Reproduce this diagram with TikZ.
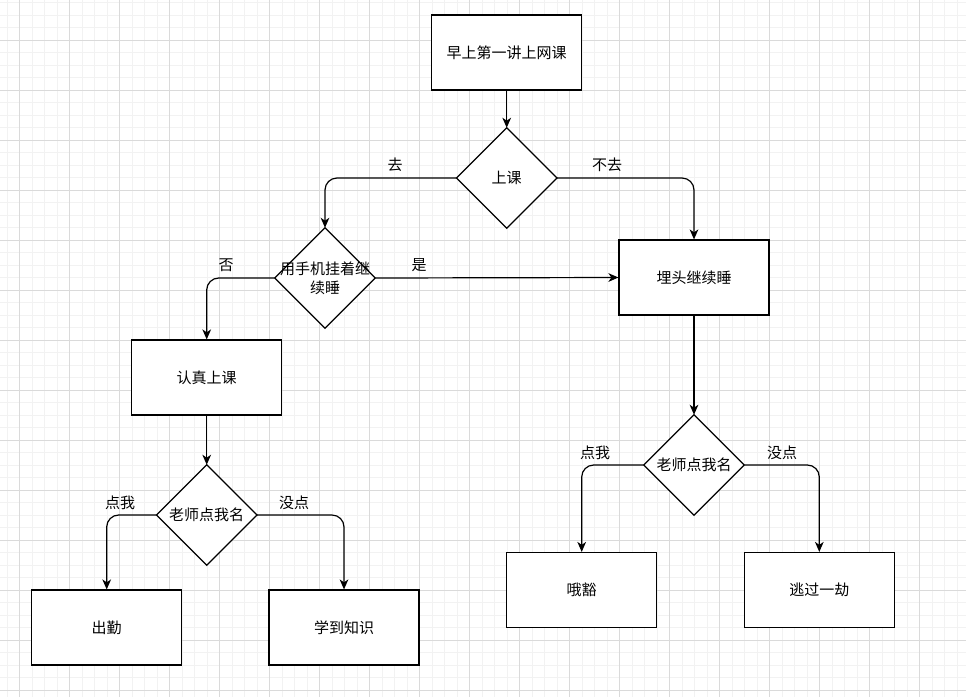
\documentclass[tikz,border=0pt]{standalone}
\usepackage{fontspec}
\setmainfont{Noto Sans CJK SC}
\usetikzlibrary{arrows.meta}
\definecolor{gridminor}{HTML}{F2F2F2}
\definecolor{gridmajor}{HTML}{DADADA}
\begin{document}
\begin{tikzpicture}[x=0.75pt,y=-0.75pt,
  every node/.style={font=\fontsize{11.25}{14.25}\selectfont},
  box/.style={draw=black,line width=0.9pt,fill=white,minimum width=112.5pt,minimum height=56.25pt,inner sep=0pt,align=center},
  dia/.style={minimum width=75pt,minimum height=75pt,inner sep=0pt,align=center,text width=72pt},
  diashape/.style={draw=black,line width=0.9pt,fill=white},
  conn/.style={draw=black,line width=0.9pt,rounded corners=9pt,-{Stealth[length=7.5pt,width=6.5pt,inset=2.2pt]}},
  lbl/.style={inner sep=0pt}
]
\useasboundingbox (0,0) rectangle (966,697);
\fill[white] (0,0) rectangle (966,697);
% grid
\foreach \i in {0,...,77} {\draw[gridminor,line width=0.75pt] ({7+12.5*\i},0) -- ({7+12.5*\i},697);}
\foreach \i in {0,...,55} {\draw[gridminor,line width=0.75pt] (0,{2.8+12.5*\i}) -- (966,{2.8+12.5*\i});}
\foreach \i in {0,...,19} {\draw[gridmajor,line width=0.75pt] ({19.5+50*\i},0) -- ({19.5+50*\i},697);}
\foreach \i in {0,...,13} {\draw[gridmajor,line width=0.75pt] (0,{40.3+50*\i}) -- (966,{40.3+50*\i});}

% boxes
\node[box] (start) at (506.7,52.5) {早上第一讲上网课};
\node[box] (sleep) at (694,277.5) {埋头继续睡};
\node[box] (study) at (206.7,377.5) {认真上课};
\node[box] (att) at (106.7,627.5) {出勤};
\node[box] (learn) at (344,627.5) {学到知识};
\node[box] (oops) at (581.7,590) {哦豁};
\node[box] (escape) at (819.3,590) {逃过一劫};

% diamonds (shape drawn from anchors)
\node[dia] (d0) at (506.7,178) {};
\node[dia] (d1) at (325,278) {};
\node[dia] (d2) at (206.7,515) {};
\node[dia] (d3) at (694,465) {};
\foreach \d in {d0,d1,d2,d3} {\draw[diashape] (\d.north) -- (\d.east) -- (\d.south) -- (\d.west) -- cycle;}
\node[dia] at (d0) {上课};
\node[dia] at (d1) {用手机挂着继\\续睡};
\node[dia] at (d2) {老师点我名};
\node[dia] at (d3) {老师点我名};

% connectors
\draw[conn] (start.south) -- (d0.north);
\draw[conn] (d0.west) -| (d1.north);
\draw[conn] (d0.east) -| (sleep.north);
\draw[conn] (d1.east) -- (sleep.west);
\draw[conn] (d1.west) -| (study.north);
\draw[conn] (study.south) -- (d2.north);
\draw[conn] (d2.west) -| (att.north);
\draw[conn] (d2.east) -| (learn.north);
\draw[conn] (sleep.south) -- (d3.north);
\draw[conn] (d3.west) -| (oops.north);
\draw[conn] (d3.east) -| (escape.north);

% labels
\node[lbl] (l1) at (395,164.5) {去};
\node[lbl] (l2) at (607,164.5) {不去};
\node[lbl] (l3) at (419,265) {是};
\node[lbl] (l4) at (226,265) {否};
\node[lbl] (l5) at (120,503) {点我};
\node[lbl] (l6) at (294,503) {没点};
\node[lbl] (l7) at (595,453) {点我};
\node[lbl] (l8) at (782,453) {没点};
\end{tikzpicture}
\end{document}
